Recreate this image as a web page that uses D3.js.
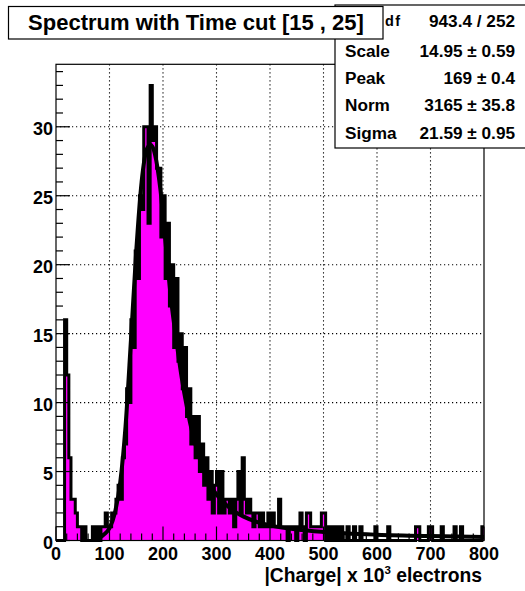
<!DOCTYPE html>
<html><head><meta charset="utf-8">
<script src="https://cdn.jsdelivr.net/npm/d3@7"></script>
<style>
body{margin:0;background:#fff}
svg{display:block}
text{font-family:"Liberation Sans",Arial,Helvetica,sans-serif;font-weight:bold;fill:#000}
</style>
</head><body>
<svg id="chart" width="525" height="591"></svg>
<script>
// ---------- data ----------
const binWidth = 4; // units of 10^3 electrons
const counts = [
 0,0,0,0,16,12,6,3,3,2, 1,1,0,1,0,0,0,1,0,1,
 0,1,1,2,1,1,2,2,3,4, 3,6,7,11,10,16,14,21,19,25,
 24,30,30,23,33,29,30,27,27,22, 25,19,23,17,20,14,19,13,15,11,
 14,9,11,7,9,6,9,5,7,4, 6,3,5,2,4,5,2,5,2,3,
 3,2,3,1,3,5,2,6,3,2, 3,2,1,2,2,1,2,1,1,2,
 1,2,1,1,3,1,1,1,0,1, 1,1,0,1,2,1,0,2,2,1,
 1,1,1,1,2,2,0,1,0,1, 0,1,0,1,0,0,1,0,0,1,
 0,0,1,0,0,0,0,0,0,1, 0,0,0,0,0,1,0,0,0,0,
 0,0,0,0,0,0,0,0,1,1, 0,0,0,0,1,1,0,0,0,0,
 1,0,0,0,0,0,1,0,0,1, 0,0,0,0,0,0,0,0,0,1
];
const fitX = [80,90,100,110,120,130,140,150,160,170,177,185,195,205,215,225,235,245,255,265,275,285,295,310,330,350,375,400,450,500,600,700,800];
const fitY = [0.15,0.45,0.9,2.0,4.2,8.3,14.5,21,26,28.4,28.7,28,25.5,21.5,17.5,14.5,11.8,9.6,7.8,6.4,5.2,4.3,3.6,2.9,2.2,1.75,1.35,1.1,0.8,0.62,0.42,0.32,0.26];
const xTickValues = [0,100,200,300,400,500,600,700,800];
const yTickValues = [0,5,10,15,20,25,30];
const xDomain = [0, 800];
const yDomain = [0, 34.53];
const titleText = "Spectrum with Time cut [15 , 25]";
const chiLabelVisible = "df"; // rest of "χ²/ndf" is hidden under the title box
const chiValue = "943.4 / 252";
const statNames = ["Scale","Peak","Norm","Sigma"];
const statValues = ["14.95 ± 0.59","169 ± 0.4","3165 ± 35.8","21.59 ± 0.95"];

// ---------- layout ----------
const svg = d3.select("#chart");
const L = 56, R = 484, T = 64.3, B = 540.5;
const x = d3.scaleLinear().domain(xDomain).range([L, R]);
const y = d3.scaleLinear().domain(yDomain).range([B, T]);

// grid (dotted)
const grid = svg.append("g").attr("stroke","#000").attr("stroke-width",1.1).attr("stroke-dasharray","1.2,2.8");
grid.selectAll("line.gx").data(xTickValues.filter(v => v > xDomain[0] && v < xDomain[1]))
  .join("line").attr("x1", d => x(d)).attr("x2", d => x(d)).attr("y1", T).attr("y2", B);
grid.selectAll("line.gy").data(yTickValues.filter(v => v > 0))
  .join("line").attr("x1", L).attr("x2", R).attr("y1", d => y(d)).attr("y2", d => y(d));

// histogram
const bins = counts.map((c, i) => ({x0: i * binWidth, v: c}));
const stepPts = bins.concat([{x0: xDomain[1], v: counts[counts.length - 1]}]);
const area = d3.area().curve(d3.curveStepAfter).x(d => x(d.x0)).y0(y(0)).y1(d => y(d.v));
const line = d3.line().curve(d3.curveStepAfter).x(d => x(d.x0)).y(d => y(d.v));
svg.append("path").datum(stepPts).attr("d", area).attr("fill", "#ff00ff");
svg.append("path").datum(stepPts).attr("d", line).attr("fill", "none").attr("stroke", "#000")
  .attr("stroke-width", 3).attr("stroke-linejoin","miter");

// fit curve
const fitPts = fitX.map((v, i) => [v, fitY[i]]);
svg.append("path").datum(fitPts)
  .attr("d", d3.line().curve(d3.curveMonotoneX).x(d => x(d[0])).y(d => y(d[1])))
  .attr("fill","none").attr("stroke","#000").attr("stroke-width",4);

// frame
svg.append("rect").attr("x", L).attr("y", T).attr("width", R - L).attr("height", B - T)
  .attr("fill","none").attr("stroke","#000").attr("stroke-width",1.2);

// x axis ticks (inside, upward)
const xMinor = d3.range(xDomain[0], xDomain[1] + 0.1, 20);
svg.append("g").selectAll("line").data(xMinor).join("line")
  .attr("x1", d => x(d)).attr("x2", d => x(d))
  .attr("y1", B).attr("y2", d => B - (d % 100 === 0 ? 14 : 7))
  .attr("stroke","#000").attr("stroke-width",1.2);
svg.append("g").selectAll("text").data(xTickValues).join("text")
  .attr("x", d => x(d)).attr("y", 560).attr("text-anchor","middle")
  .attr("font-size", 18).text(d => d);

// y axis ticks (inside, rightward)
const yMinor = d3.range(0, yDomain[1], 1);
svg.append("g").selectAll("line").data(yMinor).join("line")
  .attr("x1", L).attr("x2", d => L + (d % 5 === 0 ? 14 : 7))
  .attr("y1", d => y(d)).attr("y2", d => y(d))
  .attr("stroke","#000").attr("stroke-width",1.2);
svg.append("g").selectAll("text").data(yTickValues).join("text")
  .attr("x", 53).attr("y", d => y(d) + 8).attr("text-anchor","end")
  .attr("font-size", 18).text(d => d);

// x axis title
const xt = svg.append("text").attr("x", 482).attr("y", 582).attr("text-anchor","end").attr("font-size", 19.3);
xt.append("tspan").text("|Charge| x 10");
xt.append("tspan").attr("dy", -8).attr("font-size", 11.5).text("3");
xt.append("tspan").attr("dy", 8).text(" electrons");

// stats box
svg.append("rect").attr("x", 335).attr("y", 5).attr("width", 200).attr("height", 143)
  .attr("fill","#fff").attr("stroke","#000").attr("stroke-width",1.2);
svg.append("text").attr("x", 385).attr("y", 25.5).attr("font-size", 14.5)
  .attr("letter-spacing", 1.5).text(chiLabelVisible);
svg.append("text").attr("x", 515).attr("y", 27).attr("text-anchor","end").attr("font-size", 17.2).text(chiValue);
statNames.forEach((n, i) => {
  const yy = 57 + i * 27.2;
  svg.append("text").attr("x", 345).attr("y", yy).attr("font-size", 17.2).text(n);
  svg.append("text").attr("x", 515).attr("y", yy).attr("text-anchor","end").attr("font-size", 17.2).text(statValues[i]);
});

// title box
svg.append("rect").attr("x", 8.5).attr("y", 6.5).attr("width", 374.5).attr("height", 32.5)
  .attr("fill","#fff").attr("stroke","#000").attr("stroke-width",1.2);
svg.append("text").attr("x", 196).attr("y", 30).attr("text-anchor","middle").attr("font-size", 22).text(titleText);
</script>
</body></html>
